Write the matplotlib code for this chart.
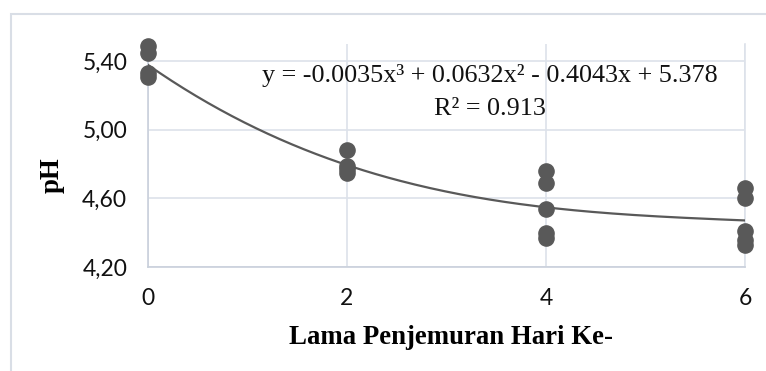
"""pH selama penjemuran, dengan garis tren polinomial orde 3."""
import matplotlib.pyplot as plt
import numpy as np
from matplotlib.patches import Rectangle

# data
hari = [0, 0, 0, 0,
        2, 2, 2, 2,
        4, 4, 4, 4, 4,
        6, 6, 6, 6, 6]
ph = [5.49, 5.45, 5.33, 5.31,
      4.88, 4.79, 4.77, 4.75,
      4.76, 4.69, 4.54, 4.40, 4.37,
      4.66, 4.60, 4.41, 4.36, 4.33]

# cubic trendline coefficients as printed on the chart (highest power first)
coef = [-0.0035, 0.0632, -0.4043, 5.378]
r2 = 0.913

x_ticks = [0, 2, 4, 6]
y_ticks = [4.20, 4.60, 5.00, 5.40]

W, H = 766, 371
fig = plt.figure(figsize=(W / 100, H / 100), dpi=100)

# light chart-area border (runs off the right and bottom edges)
fig.add_artist(Rectangle((11 / W, -0.05), 1.0, 1 - 14 / H + 0.05,
                         transform=fig.transFigure, fill=False,
                         edgecolor="#d9dee6", linewidth=1.5))

ax = fig.add_axes([148 / W, 1 - 267 / H, (745 - 148) / W, (267 - 44) / H])

grid_c = "#dde2ea"
ax.set_xlim(0, 6)
ax.set_ylim(4.20, 5.50)
ax.set_xticks(x_ticks)
ax.set_yticks(y_ticks)
ax.set_yticklabels([f"{v:.2f}".replace(".", ",") for v in y_ticks])
ax.grid(True, color=grid_c, linewidth=1.2)
ax.set_axisbelow(True)
ax.spines["top"].set_visible(False)
ax.spines["right"].set_color(grid_c)
ax.spines["left"].set_color("#c9d0db")
ax.spines["bottom"].set_color("#c9d0db")
for s in ax.spines.values():
    s.set_linewidth(1.2)
ax.tick_params(length=0, labelsize=16.5, colors="#111111")
ax.tick_params(axis="x", pad=15)
ax.tick_params(axis="y", pad=15)
for lab in ax.get_xticklabels() + ax.get_yticklabels():
    lab.set_fontfamily("Lato")

ax.scatter(hari, ph, s=120, color="#595959", zorder=3, clip_on=False)

xs = np.linspace(0, 6, 200)
ax.plot(xs, np.polyval(coef, xs), color="#595959", linewidth=1.6, zorder=4)

serif = "Liberation Serif"
eq = f"y = {coef[0]}x³ + {coef[1]}x² - {abs(coef[2])}x + {coef[3]}"
fig.text(490 / W, 1 - 82 / H, eq, ha="center", va="baseline",
         fontsize=18.8, family=serif, color="#111111")
fig.text(490 / W, 1 - 115 / H, f"R² = {r2}", ha="center", va="baseline",
         fontsize=18.8, family=serif, color="#111111")

fig.text(451 / W, 1 - 337 / H, "Lama Penjemuran Hari Ke-", ha="center",
         va="center", fontsize=19.3, fontweight="bold", family=serif)
fig.text(52 / W, 1 - 175 / H, "pH", ha="center", va="center", rotation=90,
         fontsize=19.3, fontweight="bold", family=serif)

fig.savefig("out.png", dpi=100)
plt.close(fig)
